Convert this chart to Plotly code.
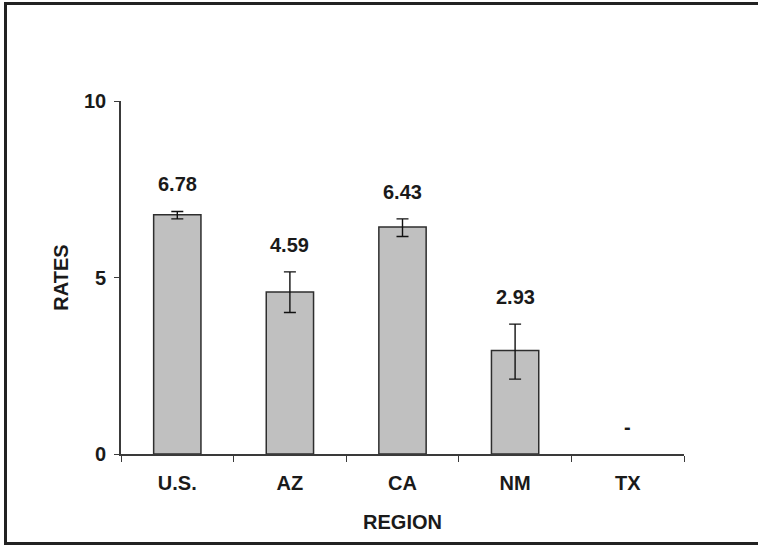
import plotly.graph_objects as go

# Rates by region with error bars
regions = ["U.S.", "AZ", "CA", "NM", "TX"]
rates = [6.78, 4.59, 6.43, 2.93, None]
err_plus = [0.09, 0.57, 0.23, 0.75, 0]
err_minus = [0.12, 0.58, 0.27, 0.81, 0]
value_labels = ["6.78", "4.59", "6.43", "2.93", "-"]
y_ticks = [0, 5, 10]

FONT = "Liberation Sans, Arial, sans-serif"
FS = 20
TEXT_COLOR = "#1a1a1a"
AXIS_COLOR = "#3a3a3a"

fig = go.Figure()
fig.add_trace(go.Bar(
    x=regions,
    y=rates,
    width=0.42,
    marker=dict(color="#c0c0c0", line=dict(color="#2e2e2e", width=1.5)),
    error_y=dict(type="data", symmetric=False, array=err_plus,
                 arrayminus=err_minus, color="#111111", thickness=1.4, width=6),
    showlegend=False,
    hoverinfo="skip",
))

# Value labels above each error bar
for reg, val, ep, txt in zip(regions, rates, err_plus, value_labels):
    top = (val if val is not None else 0) + ep
    fig.add_annotation(
        x=reg, y=top, text=txt, showarrow=False,
        yanchor="middle", xanchor="center", yshift=27,
        font=dict(family=FONT, size=FS, color=TEXT_COLOR, weight="bold"),
    )

# Plot area in pixels: x 121..684, y 101..454 within a 758x546 page
L, R, T, B = 121, 74, 101, 92
W, H = 758, 546
pw, ph = W - L - R, H - T - B
def px_to_paper_x(px):
    return (px - L) / pw
def px_to_paper_y(py):
    return (H - B - py) / ph

# Outer frame: left, top and bottom edges (the right edge runs off the page)
fx0, fx1 = px_to_paper_x(5.5), px_to_paper_x(758)
fy0, fy1 = px_to_paper_y(543.5), px_to_paper_y(3.5)
frame = dict(type="line", xref="paper", yref="paper",
             line=dict(color="#222222", width=3), layer="above")
fig.add_shape(x0=fx0, x1=fx0, y0=fy0 - 0.004, y1=fy1 + 0.004, **frame)
fig.add_shape(x0=fx0, x1=fx1, y0=fy1, y1=fy1, **frame)
fig.add_shape(x0=fx0, x1=fx1, y0=fy0, y1=fy0, **frame)

fig.update_layout(
    width=W, height=H,
    margin=dict(l=L, r=R, t=T, b=B),
    paper_bgcolor="white", plot_bgcolor="white",
    font=dict(family=FONT, size=FS, color=TEXT_COLOR),
)
fig.update_xaxes(
    type="category", range=[-0.5, 4.5],
    showline=True, linecolor=AXIS_COLOR, linewidth=1.6,
    ticks="outside", tickson="boundaries", ticklen=6, tickwidth=1.4,
    tickcolor=AXIS_COLOR, showgrid=False, zeroline=False,
    ticklabelstandoff=10,
    tickfont=dict(family=FONT, size=FS, color=TEXT_COLOR, weight="bold"),
    title=dict(text="REGION", standoff=22,
               font=dict(family=FONT, size=FS, color=TEXT_COLOR, weight="bold")),
)
fig.update_yaxes(
    range=[0, 10], tickvals=y_ticks,
    showline=True, linecolor=AXIS_COLOR, linewidth=1.6,
    ticks="outside", ticklen=5, tickwidth=1.4, tickcolor=AXIS_COLOR,
    showgrid=False, zeroline=False,
    ticklabelstandoff=4,
    tickfont=dict(family=FONT, size=FS, color=TEXT_COLOR, weight="bold"),
    title=dict(text="RATES", standoff=10,
               font=dict(family=FONT, size=FS, color=TEXT_COLOR, weight="bold")),
)

fig.write_html("out.html")
